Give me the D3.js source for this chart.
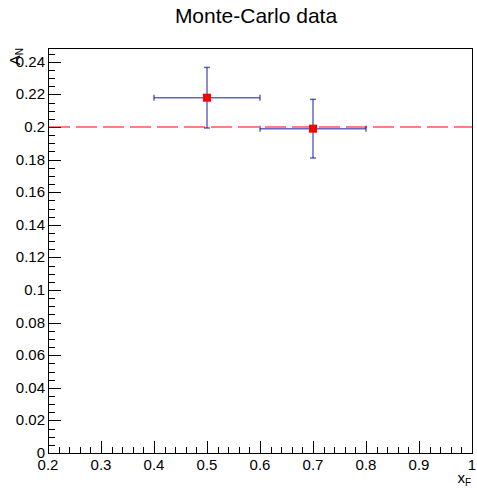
<!DOCTYPE html>
<html>
<head>
<meta charset="utf-8">
<script src="https://cdn.jsdelivr.net/npm/d3@7"></script>
<style>
  body { margin: 0; background: white; }
  text { font-family: "Liberation Sans", Arial, sans-serif; }
</style>
</head>
<body>
<div id="chart"></div>
<script>
// data
var xF = [0.5, 0.7]
var xErr = [0.1, 0.1]
var AN = [0.218, 0.199]
var ANerr = [0.0186, 0.018]
var refLevel = 0.2

var xTicks = [0.2, 0.3, 0.4, 0.5, 0.6, 0.7, 0.8, 0.9, 1]
var xTickLabels = ["0.2", "0.3", "0.4", "0.5", "0.6", "0.7", "0.8", "0.9", "1"]
var yTicks = [0, 0.02, 0.04, 0.06, 0.08, 0.1, 0.12, 0.14, 0.16, 0.18, 0.2, 0.22, 0.24]
var yTickLabels = ["0", "0.02", "0.04", "0.06", "0.08", "0.1", "0.12", "0.14", "0.16", "0.18", "0.2", "0.22", "0.24"]

var svgSize = { width: 477, height: 489 }
var frame = { left: 48, right: 472, top: 48, bottom: 453 }

var svg = d3.select("#chart").append("svg")
    .attr("width", svgSize.width)
    .attr("height", svgSize.height)

svg.append("rect").attr("width", svgSize.width).attr("height", svgSize.height).attr("fill", "white")

var xScale = d3.scaleLinear().domain([0.2, 1]).range([frame.left, frame.right])
var yScale = d3.scaleLinear().domain([0, 0.2485]).range([frame.bottom, frame.top])

// minor ticks
var xMinor = d3.range(0.2, 1.0001, 0.02)
var yMinor = d3.range(0, 0.2485, 0.005)

var axes = svg.append("g").attr("stroke", "black").attr("stroke-width", 1)

axes.selectAll(".xminor").data(xMinor).enter().append("line")
    .attr("x1", d => Math.round(xScale(d)) + 0.5).attr("x2", d => Math.round(xScale(d)) + 0.5)
    .attr("y1", frame.bottom).attr("y2", frame.bottom - 6)
axes.selectAll(".xmajor").data(xTicks).enter().append("line")
    .attr("x1", d => Math.round(xScale(d)) + 0.5).attr("x2", d => Math.round(xScale(d)) + 0.5)
    .attr("y1", frame.bottom).attr("y2", frame.bottom - 12)
axes.selectAll(".yminor").data(yMinor).enter().append("line")
    .attr("y1", d => Math.round(yScale(d)) + 0.5).attr("y2", d => Math.round(yScale(d)) + 0.5)
    .attr("x1", frame.left).attr("x2", frame.left + 7)
axes.selectAll(".ymajor").data(yTicks).enter().append("line")
    .attr("y1", d => Math.round(yScale(d)) + 0.5).attr("y2", d => Math.round(yScale(d)) + 0.5)
    .attr("x1", frame.left).attr("x2", frame.left + 13)

// frame box
svg.append("rect")
    .attr("x", frame.left + 0.5).attr("y", frame.top + 0.5)
    .attr("width", frame.right - frame.left).attr("height", frame.bottom - frame.top)
    .attr("fill", "none").attr("stroke", "black")

// tick labels
svg.selectAll(".xlab").data(xTicks).enter().append("text")
    .attr("x", d => xScale(d)).attr("y", frame.bottom + 17)
    .attr("text-anchor", "middle").attr("font-size", 15)
    .text((d, i) => xTickLabels[i])
svg.selectAll(".ylab").data(yTicks).enter().append("text")
    .attr("x", frame.left - 3).attr("y", d => yScale(d) + 5)
    .attr("text-anchor", "end").attr("font-size", 15)
    .text((d, i) => yTickLabels[i])

// title
svg.append("text").attr("x", 256).attr("y", 23)
    .attr("text-anchor", "middle").attr("font-size", 21)
    .text("Monte-Carlo data")

// axis titles
var xt = svg.append("text").attr("x", 471).attr("y", 483)
    .attr("text-anchor", "end").attr("font-size", 15)
xt.append("tspan").text("x")
xt.append("tspan").attr("font-size", 10).attr("dy", 3).text("F")

var yt = svg.append("text")
    .attr("transform", "translate(20," + frame.top + ") rotate(-90)")
    .attr("text-anchor", "end").attr("font-size", 15)
yt.append("tspan").text("A")
yt.append("tspan").attr("font-size", 10).attr("dy", 3).text("N")

// reference line
svg.append("line")
    .attr("x1", frame.left + 1).attr("x2", frame.right)
    .attr("y1", yScale(refLevel)).attr("y2", yScale(refLevel))
    .attr("stroke", "#ff0000").attr("stroke-opacity", 0.5).attr("stroke-width", 2)
    .attr("stroke-dasharray", "21,6")

// error bars
var pts = xF.map((x, i) => ({ x: x, y: AN[i], ex: xErr[i], ey: ANerr[i] }))
var eb = svg.append("g").attr("stroke", "#00008c").attr("stroke-opacity", 0.6).attr("stroke-width", 1.5)
pts.forEach(p => {
    var cx = xScale(p.x), cy = yScale(p.y)
    eb.append("line").attr("x1", xScale(p.x - p.ex)).attr("x2", xScale(p.x + p.ex)).attr("y1", cy).attr("y2", cy)
    eb.append("line").attr("x1", cx).attr("x2", cx).attr("y1", yScale(p.y - p.ey)).attr("y2", yScale(p.y + p.ey))
    // end caps
    eb.append("line").attr("x1", xScale(p.x - p.ex)).attr("x2", xScale(p.x - p.ex)).attr("y1", cy - 3).attr("y2", cy + 3)
    eb.append("line").attr("x1", xScale(p.x + p.ex)).attr("x2", xScale(p.x + p.ex)).attr("y1", cy - 3).attr("y2", cy + 3)
    eb.append("line").attr("x1", cx - 3).attr("x2", cx + 3).attr("y1", yScale(p.y - p.ey)).attr("y2", yScale(p.y - p.ey))
    eb.append("line").attr("x1", cx - 3).attr("x2", cx + 3).attr("y1", yScale(p.y + p.ey)).attr("y2", yScale(p.y + p.ey))
})

// markers
svg.selectAll(".marker").data(pts).enter().append("rect")
    .attr("x", d => xScale(d.x) - 4).attr("y", d => yScale(d.y) - 4)
    .attr("width", 8).attr("height", 8).attr("fill", "red")
</script>
</body>
</html>
